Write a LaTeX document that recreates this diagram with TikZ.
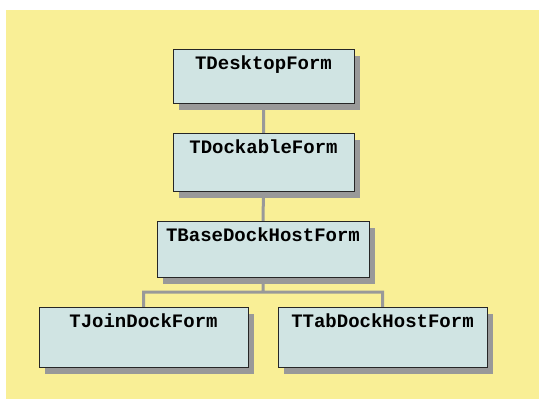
\documentclass[tikz,border=0pt]{standalone}
\usepackage{fontspec}
\usetikzlibrary{shadows,backgrounds}
\newfontfamily\formfont{Liberation Mono}
\definecolor{bgyellow}{HTML}{F9EF96}
\definecolor{boxfill}{HTML}{D0E4E3}
\definecolor{linkgray}{HTML}{999999}

\begin{document}
\begin{tikzpicture}[x=1pt,y=-1pt,
    every node/.style = {shape=rectangle, draw=black!85, line width=1pt,
    fill=boxfill, anchor=north, inner ysep=0pt, text height=20pt,
    font=\formfont\bfseries\fontsize{19}{19}\selectfont,
    drop shadow={shadow xshift=6pt, shadow yshift=-6pt, opacity=1, fill=linkgray, draw=none}},
    formbox/.style={text depth=#1},
    link/.style={draw=linkgray, line width=3pt}]
    \useasboundingbox (0,0) rectangle (539,399);
    \node[formbox=34pt, minimum width=181pt] (desk) at (263.5, 49) {TDesktopForm};
    \node[formbox=38pt, minimum width=181pt] (dock) at (263.5, 133) {TDockableForm};
    \node[formbox=36pt, minimum width=212pt] (base) at (263, 221) {TBaseDockHostForm};
    \node[formbox=40pt, minimum width=209pt] (join) at (143.5, 307) {TJoinDockForm};
    \node[formbox=40pt, minimum width=209pt] (tab) at (382.5, 307) {TTabDockHostForm};
    \begin{scope}[on background layer]
        \fill[bgyellow] (6,10) rectangle (539,399);
        \path[link]
            (desk) -- (dock)
            (dock) -- (base)
            (base.south) -- ++(0,14) -| (join.north)
            (base.south) -- ++(0,14) -| (tab.north);
    \end{scope}
\end{tikzpicture}
\end{document}
